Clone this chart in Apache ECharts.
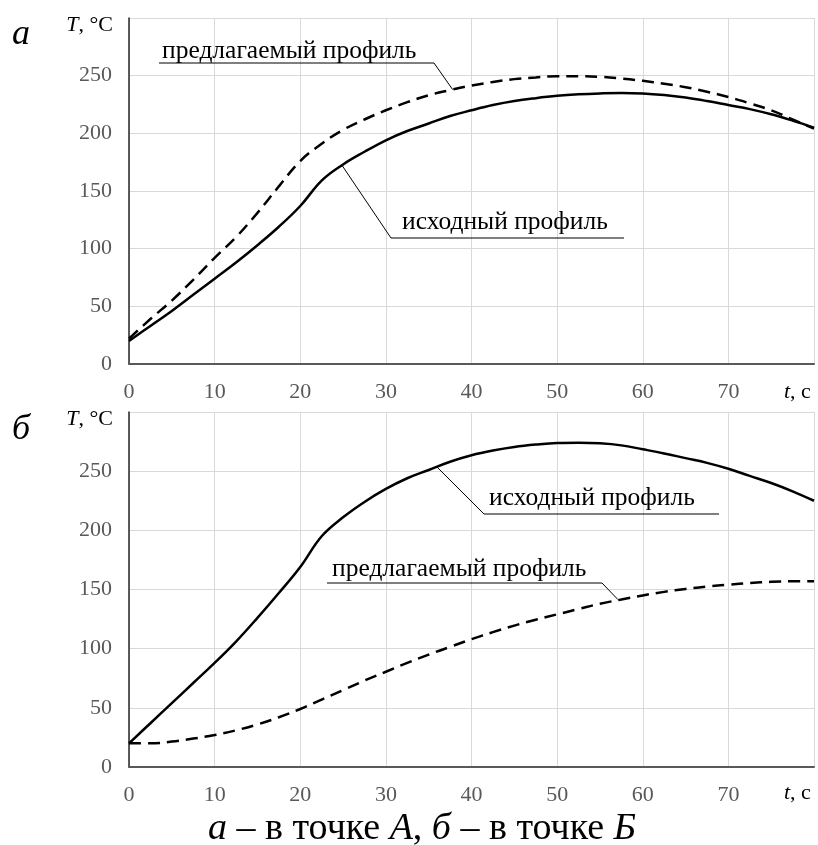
<!DOCTYPE html>
<html>
<head>
<meta charset="utf-8">
<script src="https://cdn.jsdelivr.net/npm/echarts@6/dist/echarts.min.js"></script>
<style>
html,body{margin:0;padding:0;background:#fff;}
#chart{width:818px;height:845px;}
</style>
</head>
<body>
<div id="chart"></div>
<script>
// time, s
const timeS = [0,2.5,5,7.5,10,12.5,15,17.5,20,22.5,25,27.5,30,32.5,35,37.5,40,42.5,45,47.5,50,52.5,55,57.5,60,62.5,65,67.5,70,72.5,75,77.5,80];
// а – в точке А
const aInitial = [20,33,46,60,74,88,103,119,137,159,173,184,194,202,208.5,215,220,224.5,228,230.5,232.5,233.8,234.6,235,234.6,233.2,231,228,224.5,221,216.5,211,205];
const aProposed = [22,39,55,73,92,110,131,154,176,191,203,212,220,227,233,237.5,241.5,244.5,247,248.5,249.5,249.5,249,247.5,245.5,243,240,236,231.5,226,220,212,204];
// б – в точке Б
const bInitial = [20,37,54,71,88,106,126,147,169,195,211,224,235,244,251,258,263.5,267.5,270.5,272.5,273.8,274,273.5,271.8,268.5,265,261,257,252,246,240,233,225];
const bProposed = [20,20,21.5,24,27,31,36,42,49,57,65,73,80.5,88,95,101.5,108,114,119.5,124.5,129,133.5,138,141.5,145,148,150.5,152.5,154,155.5,156.5,157,157];
const xTicks = {min:0, max:80, step:10};
const yTicks = {min:0, max:300, step:50};
const nameInitial = 'исходный профиль';
const nameProposed = 'предлагаемый профиль';

const FONT = '"Liberation Serif", "Times New Roman", serif';
const pairs = (vals) => timeS.map((t, i) => [t, vals[i]]);

const chart = echarts.init(document.getElementById('chart'), null, {renderer:'canvas'});

function xAx(g){
  return {
    type:'value', gridIndex:g, min:xTicks.min, max:xTicks.max, interval:xTicks.step,
    axisLine:{show:true, onZero:false, lineStyle:{color:'#595959', width:2}},
    axisTick:{show:false},
    axisLabel:{fontFamily:FONT, fontSize:22, color:'#595959', margin:17, showMaxLabel:false},
    splitLine:{show:true, lineStyle:{color:'#d9d9d9', width:1}}
  };
}
function yAx(g){
  return {
    type:'value', gridIndex:g, min:yTicks.min, max:yTicks.max, interval:yTicks.step,
    axisLine:{show:true, lineStyle:{color:'#262626', width:1.5}},
    axisTick:{show:false},
    axisLabel:{fontFamily:FONT, fontSize:22, color:'#595959', margin:17, showMaxLabel:false},
    splitLine:{show:true, lineStyle:{color:'#d9d9d9', width:1}}
  };
}
function ser(name, vals, g, dashed){
  return {
    type:'line', name:name, xAxisIndex:g, yAxisIndex:g, data:pairs(vals),
    showSymbol:false, smooth:0.4, silent:true, animation:false,
    lineStyle:{color:'#000', width:2.5, type: dashed ? [12,7] : 'solid'}
  };
}

chart.setOption({
  animation:false,
  backgroundColor:'#fff',
  grid:[
    {left:129, right:4, top:18, height:346},
    {left:129, right:4, top:412, height:355}
  ],
  xAxis:[xAx(0), xAx(1)],
  yAxis:[yAx(0), yAx(1)],
  series:[
    ser(nameInitial, aInitial, 0, false),
    ser(nameProposed, aProposed, 0, true),
    ser(nameInitial, bInitial, 1, false),
    ser(nameProposed, bProposed, 1, true)
  ]
});

// annotations: text box (pixels) + anchor on the curve (data coords)
const notes = [
  {text:nameProposed, g:0, tx:162, ty:51, ul:[159,434,63], anchor:[37.8,237.9], leftLeader:false},
  {text:nameInitial,  g:0, tx:402, ty:222, ul:[391,624,238], anchor:[24.9,172], leftLeader:true},
  {text:nameInitial,  g:1, tx:489, ty:498, ul:[484,719,514], anchor:[35.9,254], leftLeader:true},
  {text:nameProposed, g:1, tx:332, ty:569, ul:[327,602,583], anchor:[57.1,141.5], leftLeader:false}
];
const gfx = [];
notes.forEach(n => {
  const p = chart.convertToPixel({gridIndex:n.g}, n.anchor);
  gfx.push({type:'text', x:n.tx, y:n.ty, style:{text:n.text, font:'25.5px ' + FONT, fill:'#000', verticalAlign:'middle'}});
  gfx.push({type:'line', shape:{x1:n.ul[0], y1:n.ul[2], x2:n.ul[1], y2:n.ul[2]}, style:{stroke:'#000', lineWidth:1.2}});
  const sx = n.leftLeader ? n.ul[0] : n.ul[1];
  gfx.push({type:'line', shape:{x1:sx, y1:n.ul[2], x2:p[0], y2:p[1]}, style:{stroke:'#000', lineWidth:1}});
});
const richBase = {
  n:{fontFamily:FONT, fontSize:22, fill:'#000'},
  i:{fontFamily:FONT, fontSize:22, fontStyle:'italic', fill:'#000'}
};
// axis names
[25,419].forEach(y => {
  gfx.push({type:'text', x:113, y:y, style:{text:'{i|T}{n|, °C}', rich:richBase, align:'right', verticalAlign:'middle'}});
});
[392,793].forEach(y => {
  gfx.push({type:'text', x:784, y:y, style:{text:'{i|t}{n|, с}', rich:richBase, align:'left', verticalAlign:'middle'}});
});
// panel letters
gfx.push({type:'text', x:12, y:35, style:{text:'а', font:'italic 36px ' + FONT, fill:'#000', verticalAlign:'middle'}});
gfx.push({type:'text', x:12, y:430, style:{text:'б', font:'italic 36px ' + FONT, fill:'#000', verticalAlign:'middle'}});
// caption
gfx.push({type:'text', x:422, y:829, style:{
  text:'{i|а}{n| – в точке }{i|А}{n|, }{i|б}{n| – в точке }{i|Б}',
  rich:{
    n:{fontFamily:FONT, fontSize:38, fill:'#000'},
    i:{fontFamily:FONT, fontSize:38, fontStyle:'italic', fill:'#000'}
  }, align:'center', verticalAlign:'middle'}});

chart.setOption({graphic:gfx});
</script>
</body>
</html>
